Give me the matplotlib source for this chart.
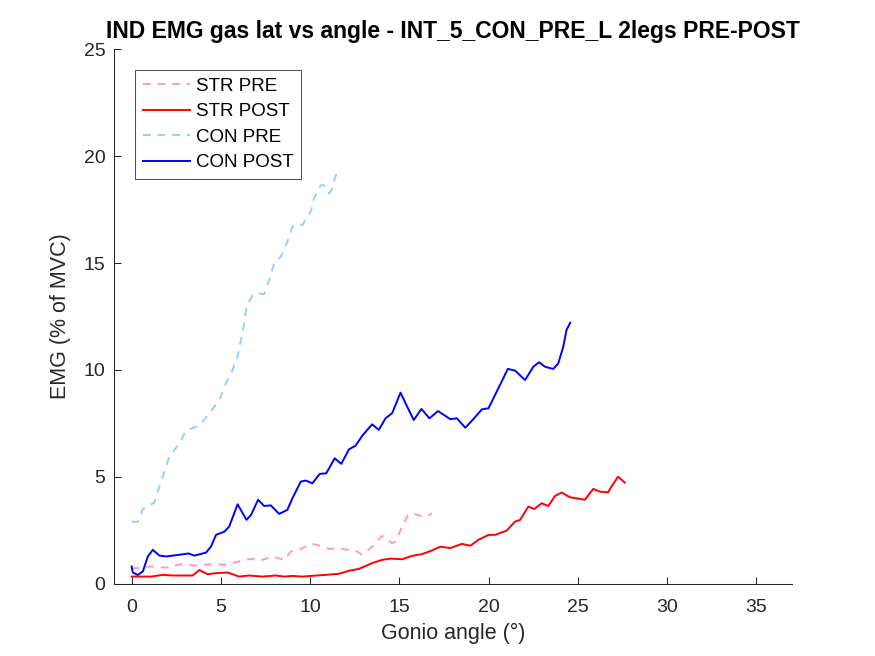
import matplotlib
matplotlib.use("Agg")
import matplotlib.pyplot as plt

# ------------------------- Datos -------------------------

str_pre_x = [0.0, 0.35, 1.0, 1.94, 2.77, 3.52, 4.54, 5.29, 5.66, 6.31, 7.15, 7.34,
             7.9, 8.55, 8.92, 9.39, 10.04, 10.41, 11.06, 11.8, 12.64, 12.92, 13.48,
             14.04, 14.6, 14.79, 15.12, 15.49, 15.72, 16.18, 16.46, 16.83]
str_pre_y = [0.73, 0.73, 0.81, 0.76, 0.92, 0.86, 0.92, 0.89, 0.97, 1.12, 1.20, 1.12,
             1.28, 1.12, 1.51, 1.59, 1.87, 1.82, 1.64, 1.64, 1.51, 1.36, 1.74,
             2.24, 1.90, 1.98, 2.60, 3.22, 3.30, 3.18, 3.12, 3.30]

str_post_x = [0.0, 1.1, 1.75, 2.31, 3.42, 3.8, 4.26, 4.73, 5.38, 6.03, 6.59, 7.34,
              8.08, 8.55, 9.01, 9.57, 10.88, 11.62, 12.18, 12.74, 13.48, 14.04,
              14.5, 15.16, 15.72, 16.27, 16.83, 17.3, 17.86, 18.51, 18.98, 19.44,
              20.0, 20.37, 21.02, 21.49, 21.77, 22.23, 22.57, 22.98, 23.35, 23.73,
              24.1, 24.56, 24.94, 25.4, 25.87, 26.24, 26.7, 26.89, 27.26, 27.64]
str_post_y = [0.34, 0.34, 0.42, 0.39, 0.39, 0.65, 0.45, 0.50, 0.53, 0.34, 0.39, 0.34,
              0.39, 0.34, 0.37, 0.34, 0.42, 0.47, 0.61, 0.70, 0.97, 1.12,
              1.18, 1.15, 1.31, 1.39, 1.56, 1.74, 1.67, 1.87, 1.78, 2.06,
              2.29, 2.29, 2.49, 2.91, 2.99, 3.61, 3.50, 3.77, 3.64, 4.11,
              4.27, 4.05, 4.00, 3.93, 4.44, 4.31, 4.28, 4.55, 5.01, 4.73]

con_pre_x = [0.0, 0.35, 0.63, 1.28, 1.56, 1.84, 2.12, 2.68, 3.06, 3.8, 4.36, 4.92,
             5.29, 5.66, 5.94, 6.13, 6.31, 6.44, 6.78, 7.06, 7.43, 7.71, 7.99,
             8.36, 8.73, 9.01, 9.29, 9.57, 10.04, 10.22, 10.6, 10.78, 11.06,
             11.25, 11.44, 11.62, 11.75]
con_pre_y = [2.90, 2.90, 3.50, 3.80, 4.55, 5.25, 5.95, 6.57, 7.18, 7.40, 7.98, 8.60,
             9.38, 10.0, 10.62, 11.4, 12.18, 12.96, 13.5, 13.58, 13.55, 14.21, 14.99,
             15.29, 16.0, 16.7, 16.82, 16.78, 17.4, 18.02, 18.64, 18.64, 18.25,
             18.49, 19.11, 19.16, 18.96]

con_post_x = [0.0, 0.07, 0.35, 0.63, 0.91, 1.19, 1.56, 1.94, 2.68, 3.18, 3.52, 4.17,
              4.45, 4.73, 5.2, 5.47, 5.94, 6.44, 6.69, 7.09, 7.43, 7.8, 8.27, 8.73,
              9.01, 9.48, 9.76, 10.13, 10.54, 10.91, 11.38, 11.75, 12.18, 12.55,
              12.92, 13.48, 13.85, 14.23, 14.6, 15.07, 15.44, 15.81, 16.24, 16.69,
              17.17, 17.86, 18.23, 18.7, 19.16, 19.63, 20.0, 20.46, 20.78, 21.08,
              21.49, 22.05, 22.51, 22.83, 23.17, 23.63, 23.91, 24.19, 24.37, 24.58]
con_post_y = [0.81, 0.53, 0.42, 0.58, 1.28, 1.59, 1.32, 1.28, 1.36, 1.42, 1.32, 1.46,
              1.74, 2.29, 2.44, 2.68, 3.72, 2.99, 3.22, 3.93, 3.64, 3.67, 3.27, 3.46,
              4.00, 4.78, 4.83, 4.70, 5.14, 5.17, 5.87, 5.61, 6.29, 6.46,
              6.92, 7.46, 7.20, 7.74, 7.98, 8.94, 8.29, 7.66, 8.18, 7.74,
              8.08, 7.70, 7.74, 7.30, 7.71, 8.16, 8.21, 8.99, 9.53, 10.05,
              9.97, 9.53, 10.15, 10.36, 10.15, 10.05, 10.31, 11.09, 11.87, 12.21]

x_ticks = [0, 5, 10, 15, 20, 25, 30, 35]
y_ticks = [0, 5, 10, 15, 20, 25]

# ------------------------- Figura -------------------------


def main():
    plt.rcParams["font.family"] = ["Liberation Sans", "DejaVu Sans"]

    fig = plt.figure(figsize=(8.75, 6.56), dpi=100)
    ax = fig.add_axes([0.13, 0.11, 0.775, 0.815])

    lw = 1.4
    dash = (0, (4, 3.5))
    ax.plot(str_pre_x, str_pre_y, linestyle=dash, color="#FF99CC",
            linewidth=lw, label="STR PRE")
    ax.plot(str_post_x, str_post_y, linestyle="-", color="#FF0000",
            linewidth=lw, label="STR POST")
    ax.plot(con_pre_x, con_pre_y, linestyle=dash, color="#99CCFF",
            linewidth=lw, label="CON PRE")
    ax.plot(con_post_x, con_post_y, linestyle="-", color="#0000FF",
            linewidth=lw, label="CON POST")

    ax.set_xlim(-1, 37)
    ax.set_ylim(0, 25)
    ax.set_xticks(x_ticks)
    ax.set_yticks(y_ticks)

    # estilo tipo MATLAB: sin caja, ticks hacia dentro
    ax.spines["top"].set_visible(False)
    ax.spines["right"].set_visible(False)
    for s in ("left", "bottom"):
        ax.spines[s].set_color("#262626")
        ax.spines[s].set_linewidth(0.75)
    ax.tick_params(direction="in", length=5, width=0.75, colors="#262626",
                   labelsize=14)
    ax.tick_params(axis="y", pad=6)
    ax.tick_params(axis="x", pad=11)

    ax.set_xlabel("Gonio angle (°)", fontsize=15.5, color="#262626", labelpad=5)
    ax.set_ylabel("EMG (% of MVC)", fontsize=15.5, color="#262626", labelpad=9)
    ax.set_title("IND EMG gas lat vs angle - INT_5_CON_PRE_L 2legs PRE-POST",
                 fontsize=16.45, fontweight="bold", pad=8)

    leg = ax.legend(loc="upper left", bbox_to_anchor=(0.032, 0.962), fontsize=13.5,
                    frameon=True, fancybox=False, handlelength=2.5,
                    borderaxespad=0, labelspacing=0.45, borderpad=0.42,
                    handletextpad=0.3)
    leg.get_frame().set_edgecolor("#262626")
    leg.get_frame().set_linewidth(0.75)

    fig.savefig("out.png", dpi=100)
    plt.close(fig)


if __name__ == "__main__":
    main()
